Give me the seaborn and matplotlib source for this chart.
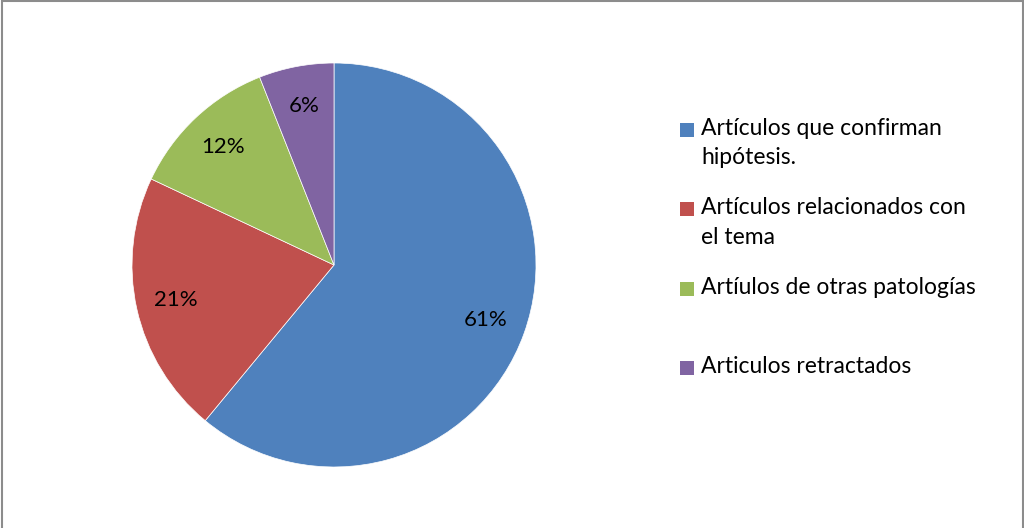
import matplotlib
matplotlib.use("Agg")
import matplotlib.pyplot as plt
import seaborn as sns
from matplotlib.patches import Rectangle

sns.set_theme(style="white")
plt.rcParams['font.family'] = ['Lato', 'DejaVu Sans']

labels = ["Artículos que confirman\nhipótesis.",
          "Artículos relacionados con\nel tema",
          "Artíulos de otras patologías",
          "Articulos retractados"]
values = [61, 21, 12, 6]
colors = ["#4F81BD", "#C0504D", "#9BBB59", "#8064A2"]

W, H = 1024, 528
fig = plt.figure(figsize=(W / 100, H / 100), dpi=100)
fig.patch.set_facecolor("white")

cx, cy, r = 334, 265, 202
ax = fig.add_axes([(cx - r) / W, (H - cy - r) / H, 2 * r / W, 2 * r / H])
wedges, texts, autotexts = ax.pie(values, colors=colors, startangle=90, counterclock=False,
                                  autopct='%1.0f%%', pctdistance=0.80,
                                  wedgeprops=dict(linewidth=0.5, edgecolor="white"),
                                  textprops=dict(fontsize=16, color="black"))
ax.set_xlim(-1, 1)
ax.set_ylim(-1, 1)
ax.set_aspect("equal")
ax.axis("off")

# legend drawn manually to mimic first-line alignment
ys = [130, 209, 289, 368]
for lab, col, y in zip(labels, colors, ys):
    fig.patches.append(Rectangle((680 / W, (H - y - 7) / H), 14 / W, 14 / H,
                                 transform=fig.transFigure, facecolor=col, edgecolor="none"))
    fig.text(701 / W, (H - y + 12) / H, lab, fontsize=16.5, va="top", ha="left",
             linespacing=1.5, color="black")

# outer border
fig.patches.append(Rectangle((1.5 / W, -0.01), (W - 3) / W, (H - 0.5) / H + 0.01,
                             transform=fig.transFigure, facecolor="none",
                             edgecolor="#8c8c8c", linewidth=1.5))

fig.savefig("out.png", dpi=100)
